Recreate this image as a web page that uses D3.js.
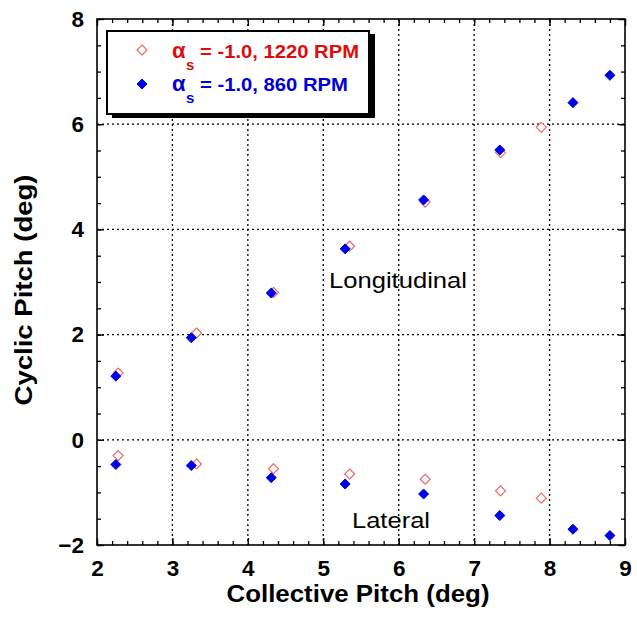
<!DOCTYPE html>
<html>
<head>
<meta charset="utf-8">
<script src="https://cdn.jsdelivr.net/npm/d3@7"></script>
<style>
  html, body { margin: 0; padding: 0; background: #fff; }
  svg { display: block; font-family: Arial, "Liberation Sans", sans-serif; }
</style>
</head>
<body>
<svg id="chart" width="637" height="618"></svg>
<script>
// Collective pitch (deg) for each run
const collective1220 = [2.28, 3.32, 4.34, 5.35, 6.35, 7.35, 7.89];
const collective860  = [2.25, 3.25, 4.31, 5.29, 6.33, 7.34, 8.31, 8.80];

// Longitudinal cyclic pitch (deg)
const longitudinal1220 = [1.27, 2.03, 2.80, 3.68, 4.52, 5.46, 5.94];
const longitudinal860  = [1.21, 1.94, 2.79, 3.63, 4.56, 5.51, 6.41, 6.93];

// Lateral cyclic pitch (deg)
const lateral1220 = [-0.30, -0.46, -0.55, -0.65, -0.75, -0.97, -1.11];
const lateral860  = [-0.47, -0.49, -0.72, -0.84, -1.03, -1.44, -1.70, -1.82];

const xTicks = [2, 3, 4, 5, 6, 7, 8, 9];
const yTicks = [-2, 0, 2, 4, 6, 8];

const seriesNames = ["= -1.0, 1220 RPM", "= -1.0, 860 RPM"];

const RED = "#e00b0b";
const RED_MARK = "#f06a6a";
const BLUE = "#0000d8";
const BLUE_MARK = "#0000e6";

const svg = d3.select("#chart");
const m = { left: 97, right: 625, top: 19, bottom: 545 };

const x = d3.scaleLinear().domain([2, 9]).range([m.left, m.right]);
const y = d3.scaleLinear().domain([-2, 8]).range([m.bottom, m.top]);

// dotted grid at major ticks
const grid = svg.append("g");
grid.selectAll("line.gx").data(xTicks.slice(1, -1)).join("line")
  .attr("x1", d => x(d)).attr("x2", d => x(d))
  .attr("y1", m.top).attr("y2", m.bottom)
  .attr("stroke", "#000").attr("stroke-width", 1.3).attr("stroke-dasharray", "2,3");
grid.selectAll("line.gy").data(yTicks.slice(1, -1)).join("line")
  .attr("y1", d => y(d)).attr("y2", d => y(d))
  .attr("x1", m.left).attr("x2", m.right)
  .attr("stroke", "#000").attr("stroke-width", 1.3).attr("stroke-dasharray", "2,3");

// axes with inward ticks on all four sides
const xMinor = d3.range(2, 9.001, 0.2);
const yMinor = d3.range(-2, 8.001, 0.5);

function styleAxis(g) {
  g.select(".domain").remove();
  g.selectAll("line").attr("stroke", "#000").attr("stroke-width", 1.3);
}
function styleLabels(g) {
  g.selectAll("text").attr("font-size", 22.5).attr("font-weight", "bold").attr("fill", "#000");
}

svg.append("g").attr("transform", `translate(0,${m.bottom})`)
  .call(d3.axisBottom(x).tickValues(xMinor).tickSize(-4).tickFormat(""))
  .call(styleAxis);
svg.append("g").attr("transform", `translate(0,${m.bottom})`)
  .call(d3.axisBottom(x).tickValues(xTicks).tickSize(-7).tickPadding(15).tickFormat(d3.format("d")))
  .call(styleAxis).call(styleLabels);
svg.append("g").attr("transform", `translate(0,${m.top})`)
  .call(d3.axisTop(x).tickValues(xMinor).tickSize(-4).tickFormat(""))
  .call(styleAxis);
svg.append("g").attr("transform", `translate(0,${m.top})`)
  .call(d3.axisTop(x).tickValues(xTicks).tickSize(-7).tickFormat(""))
  .call(styleAxis);

svg.append("g").attr("transform", `translate(${m.left},0)`)
  .call(d3.axisLeft(y).tickValues(yMinor).tickSize(-4).tickFormat(""))
  .call(styleAxis);
svg.append("g").attr("transform", `translate(${m.left},0)`)
  .call(d3.axisLeft(y).tickValues(yTicks).tickSize(-7).tickPadding(13).tickFormat(d3.format("d")))
  .call(styleAxis).call(styleLabels);
svg.append("g").attr("transform", `translate(${m.right},0)`)
  .call(d3.axisRight(y).tickValues(yMinor).tickSize(-4).tickFormat(""))
  .call(styleAxis);
svg.append("g").attr("transform", `translate(${m.right},0)`)
  .call(d3.axisRight(y).tickValues(yTicks).tickSize(-7).tickFormat(""))
  .call(styleAxis);

// frame
svg.append("rect")
  .attr("x", m.left).attr("y", m.top)
  .attr("width", m.right - m.left).attr("height", m.bottom - m.top)
  .attr("fill", "none").attr("stroke", "#000").attr("stroke-width", 1.6);

// axis titles
svg.append("text")
  .attr("x", 358).attr("y", 602)
  .attr("text-anchor", "middle").attr("font-size", 23).attr("font-weight", "bold")
  .attr("textLength", 263).attr("lengthAdjust", "spacingAndGlyphs")
  .text("Collective Pitch (deg)");
svg.append("text")
  .attr("transform", `translate(32,290) rotate(-90)`)
  .attr("text-anchor", "middle").attr("font-size", 23).attr("font-weight", "bold")
  .attr("textLength", 231).attr("lengthAdjust", "spacingAndGlyphs")
  .text("Cyclic Pitch (deg)");

// markers
const diamond = d3.symbol().type(d3.symbolDiamond2).size(64);

function plotOpen(xs, ys) {
  svg.append("g").selectAll("path").data(xs.map((v, i) => [v, ys[i]])).join("path")
    .attr("d", diamond)
    .attr("transform", d => `translate(${x(d[0])},${y(d[1])})`)
    .attr("fill", "#fff").attr("stroke", RED_MARK).attr("stroke-width", 1.2);
}
function plotFilled(xs, ys) {
  svg.append("g").selectAll("path").data(xs.map((v, i) => [v, ys[i]])).join("path")
    .attr("d", diamond)
    .attr("transform", d => `translate(${x(d[0])},${y(d[1])})`)
    .attr("fill", BLUE_MARK).attr("stroke", BLUE_MARK).attr("stroke-width", 1);
}
plotOpen(collective1220, longitudinal1220);
plotOpen(collective1220, lateral1220);
plotFilled(collective860, longitudinal860);
plotFilled(collective860, lateral860);

// annotations
svg.append("text").attr("x", 329).attr("y", 288)
  .attr("font-size", 22).attr("fill", "#000")
  .attr("textLength", 138).attr("lengthAdjust", "spacingAndGlyphs")
  .text("Longitudinal");
svg.append("text").attr("x", 352).attr("y", 528)
  .attr("font-size", 22).attr("fill", "#000")
  .attr("textLength", 78).attr("lengthAdjust", "spacingAndGlyphs")
  .text("Lateral");

// legend box with drop shadow
const lg = svg.append("g");
lg.append("rect").attr("x", 112).attr("y", 34).attr("width", 263).attr("height", 84).attr("fill", "#000");
lg.append("rect").attr("x", 107).attr("y", 31).attr("width", 262).attr("height", 83)
  .attr("fill", "#fff").attr("stroke", "#000").attr("stroke-width", 2);

const legendRows = [
  { name: seriesNames[0], color: RED, open: true, cy: 50, base: 58, len: 159 },
  { name: seriesNames[1], color: BLUE, open: false, cy: 84, base: 91, len: 148 }
];
legendRows.forEach(r => {
  lg.append("path").attr("d", diamond)
    .attr("transform", `translate(142,${r.cy})`)
    .attr("fill", r.open ? "#fff" : BLUE_MARK)
    .attr("stroke", r.open ? RED_MARK : BLUE_MARK).attr("stroke-width", r.open ? 1.2 : 1);
  lg.append("text").attr("x", 172).attr("y", r.base)
    .attr("font-size", 22).attr("font-weight", "bold").attr("fill", r.color).text("α");
  lg.append("text").attr("x", 186).attr("y", r.base + 12)
    .attr("font-size", 15).attr("font-weight", "bold").attr("fill", r.color).text("s");
  lg.append("text").attr("x", 200).attr("y", r.base)
    .attr("font-size", 18).attr("font-weight", "bold").attr("fill", r.color)
    .attr("textLength", r.len).attr("lengthAdjust", "spacingAndGlyphs")
    .text(r.name);
});
</script>
</body>
</html>
